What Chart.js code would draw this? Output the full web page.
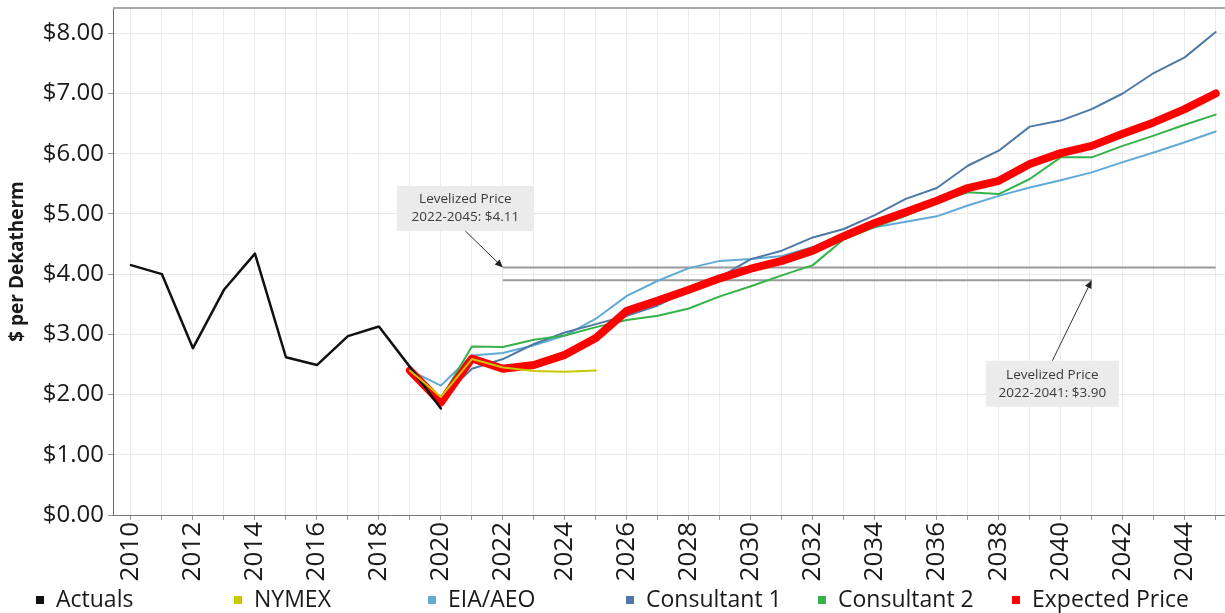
<!DOCTYPE html>
<html>
<head>
<meta charset="utf-8">
<script src="https://cdn.jsdelivr.net/npm/chart.js@4.4.1/dist/chart.umd.min.js"></script>
<style>
  html, body { margin: 0; padding: 0; background: #fff; }
  #wrap { width: 1225px; height: 613px; }
</style>
</head>
<body>
<div id="wrap"><canvas id="myChart" width="1225" height="613"></canvas></div>
<script>
// years on the x axis
var years = [2010,2011,2012,2013,2014,2015,2016,2017,2018,2019,2020,2021,2022,2023,2024,2025,2026,2027,
             2028,2029,2030,2031,2032,2033,2034,2035,2036,2037,2038,2039,2040,2041,2042,2043,2044,2045];
var yTickValues = [0,1,2,3,4,5,6,7,8];

// $ per Dekatherm, one value per year (null = no data)
var actuals    = [4.15,4.00,2.77,3.74,4.34,2.62,2.49,2.97,3.13,2.46,1.77];
var nymex      = [null,null,null,null,null,null,null,null,null,2.40,1.96,2.59,2.45,2.39,2.38,2.40];
var eiaAeo     = [null,null,null,null,null,null,null,null,null,2.40,2.15,2.65,2.69,2.82,2.98,3.26,3.64,3.89,
                  4.10,4.22,4.25,4.30,4.45,4.67,4.78,4.87,4.96,5.14,5.30,5.44,5.56,5.69,5.86,6.02,6.19,6.37];
var consult1   = [null,null,null,null,null,null,null,null,null,2.40,1.93,2.43,2.59,2.84,3.03,3.17,3.31,3.48,
                  3.73,3.95,4.25,4.39,4.61,4.75,4.98,5.25,5.43,5.80,6.05,6.45,6.55,6.74,7.00,7.34,7.60,8.02];
var consult2   = [null,null,null,null,null,null,null,null,null,2.40,1.93,2.80,2.79,2.91,2.98,3.12,3.24,3.31,
                  3.43,3.63,3.80,3.98,4.15,4.58,4.78,4.97,5.19,5.36,5.33,5.58,5.94,5.94,6.13,6.30,6.48,6.65];
var expected   = [null,null,null,null,null,null,null,null,null,2.40,1.87,2.60,2.43,2.49,2.66,2.94,3.39,3.56,
                  3.74,3.93,4.09,4.22,4.39,4.63,4.85,5.03,5.22,5.43,5.55,5.83,6.01,6.13,6.33,6.52,6.74,7.00];

// levelized prices
var levTitle  = ["Levelized Price", "Levelized Price"];
var levLabels = ["2022-2045: $4.11", "2022-2041: $3.90"];
var levFrom   = [2022, 2022];
var levTo     = [2045, 2041];
var levValue  = [4.11, 3.90];

// where the note boxes sit (data units) and their size in px
var noteBox = [
  {year: 2020.79, value: 5.09, w: 137, h: 45, arrowFrom: 'bottom'},
  {year: 2039.73, value: 2.18, w: 133, h: 46, arrowFrom: 'top'}
];

var FONT = "'Open Sans', 'DejaVu Sans', sans-serif";
var legendX = [36, 234, 428, 626, 818, 1012];

function toPoints(vals){
  var pts = [];
  for (var i = 0; i < vals.length; i++) {
    pts.push({x: years[i], y: vals[i] == null ? null : vals[i]});
  }
  return pts;
}

function series(label, vals, color, width, order){
  return {label: label, data: toPoints(vals), borderColor: color, backgroundColor: color,
          borderWidth: width, order: order, pointRadius: 0, tension: 0,
          borderCapStyle: 'round', borderJoinStyle: 'round', legendItem: true};
}

var datasets = [
  series("Actuals", actuals, "#111111", 2.5, 1),
  series("NYMEX", nymex, "#c9c800", 2, 0),
  series("EIA/AEO", eiaAeo, "#62aad6", 2, 5),
  series("Consultant 1", consult1, "#4e79a7", 2, 4),
  series("Consultant 2", consult2, "#35b34a", 2, 3),
  series("Expected Price", expected, "#ff0000", 8, 2)
];
for (var k = 0; k < levValue.length; k++) {
  datasets.push({label: "", data: [{x: levFrom[k], y: levValue[k]}, {x: levTo[k], y: levValue[k]}],
    borderColor: "#9a9a9a", borderWidth: 2, pointRadius: 0, order: 6, legendItem: false});
}

var notesPlugin = {
  id: 'notes',
  afterDatasetsDraw: function(chart){
    var ctx = chart.ctx, xs = chart.scales.x, ys = chart.scales.y;
    ctx.save();
    // top frame line
    ctx.strokeStyle = '#a8a8a8'; ctx.lineWidth = 2;
    ctx.beginPath(); ctx.moveTo(chart.chartArea.left, chart.chartArea.top);
    ctx.lineTo(chart.chartArea.right, chart.chartArea.top); ctx.stroke();

    for (var i = 0; i < noteBox.length; i++) {
      var b = noteBox[i];
      var cx = xs.getPixelForValue(b.year), cy = ys.getPixelForValue(b.value);
      ctx.fillStyle = '#ebebeb';
      ctx.fillRect(cx - b.w/2, cy - b.h/2, b.w, b.h);
      ctx.fillStyle = '#3a3a3a';
      ctx.font = '13.5px ' + FONT;
      ctx.textAlign = 'center'; ctx.textBaseline = 'middle';
      ctx.fillText(levTitle[i], cx, cy - 9);
      ctx.fillText(levLabels[i], cx, cy + 9);
      // arrow
      var sx = cx, sy = b.arrowFrom === 'bottom' ? cy + b.h/2 : cy - b.h/2;
      var tx = xs.getPixelForValue(b.arrowFrom === 'bottom' ? levFrom[i] : levTo[i]);
      var ty = ys.getPixelForValue(levValue[i]);
      var ang = Math.atan2(ty - sy, tx - sx);
      ctx.strokeStyle = '#333'; ctx.lineWidth = 1;
      ctx.beginPath(); ctx.moveTo(sx, sy); ctx.lineTo(tx - 5*Math.cos(ang), ty - 5*Math.sin(ang)); ctx.stroke();
      ctx.fillStyle = '#222';
      ctx.beginPath();
      ctx.moveTo(tx, ty);
      ctx.lineTo(tx - 8*Math.cos(ang) + 3.5*Math.sin(ang), ty - 8*Math.sin(ang) - 3.5*Math.cos(ang));
      ctx.lineTo(tx - 8*Math.cos(ang) - 3.5*Math.sin(ang), ty - 8*Math.sin(ang) + 3.5*Math.cos(ang));
      ctx.closePath(); ctx.fill();
    }
    ctx.restore();
  },
  afterDraw: function(chart){
    // legend row at the bottom
    var ctx = chart.ctx, n = 0;
    ctx.save();
    ctx.font = '23px ' + FONT;
    ctx.textAlign = 'left'; ctx.textBaseline = 'middle';
    chart.data.datasets.forEach(function(ds){
      if (!ds.legendItem) return;
      var lx = legendX[n++];
      ctx.fillStyle = ds.borderColor;
      ctx.fillRect(lx, 596, 8, 8);
      ctx.fillStyle = '#1a1a1a';
      ctx.fillText(ds.label, lx + 20, 600);
    });
    ctx.restore();
  }
};

new Chart("myChart", {
  type: "line",
  data: {datasets: datasets},
  plugins: [notesPlugin],
  options: {
    responsive: false,
    animation: false,
    layout: {padding: {top: 8, right: 0, left: 0, bottom: 30}},
    plugins: {legend: {display: false}, tooltip: {enabled: false}},
    scales: {
      x: {
        type: 'linear', min: 2009.42, max: 2045.3,
        afterBuildTicks: function(s){ s.ticks = years.map(function(v){ return {value: v}; }); },
        afterFit: function(s){ s.height = 68; s.paddingLeft = 0; s.paddingRight = 0; },
        ticks: {autoSkip: false, minRotation: 90, maxRotation: 90, padding: 2, color: '#1a1a1a',
                font: {family: FONT, size: 26},
                callback: function(v){ return v % 2 === 0 ? String(v) : ''; }},
        grid: {color: '#ececec', tickLength: 5, tickColor: '#999'},
        border: {color: '#777'}
      },
      y: {
        min: 0, max: 8.42,
        afterBuildTicks: function(s){ s.ticks = yTickValues.map(function(v){ return {value: v}; }); },
        afterFit: function(s){ s.width = 113; s.paddingTop = 0; s.paddingBottom = 0; },
        ticks: {padding: 4, color: '#1a1a1a', font: {family: FONT, size: 24},
                callback: function(v){ return '$' + v.toFixed(2); }},
        title: {display: true, text: '$ per Dekatherm', color: '#1a1a1a',
                font: {family: FONT, size: 19, weight: 'bold'}, padding: {top: 6, bottom: 0}},
        grid: {color: '#e8e8e8', tickLength: 5, tickColor: '#999'},
        border: {color: '#666'}
      }
    }
  }
});
</script>
</body>
</html>
